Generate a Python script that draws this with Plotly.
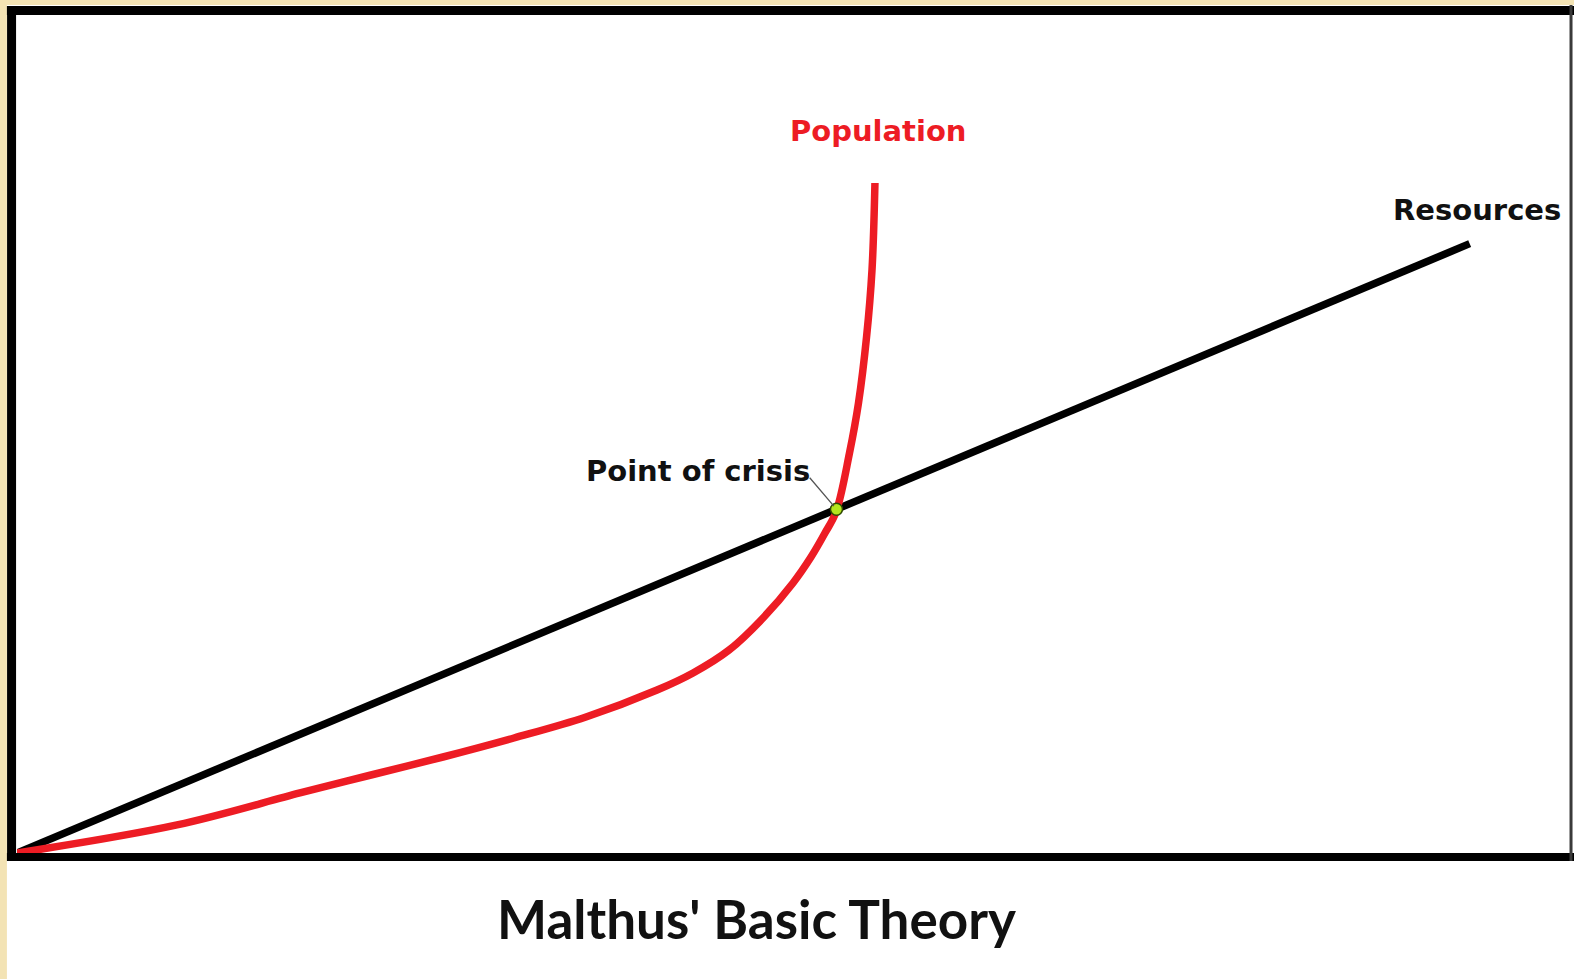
import plotly.graph_objects as go

# Population curve (time, level)
pop_x = [0, 10.31, 18.23, 22.81, 27.45, 32.02, 36.66, 41.24, 43.56, 45.88, 48.13,
         50.00, 51.16, 52.06, 52.77, 53.64, 54.22, 54.74, 55.09, 55.28]
pop_y = [0, 3.35, 7.17, 9.32, 11.47, 13.74, 16.25, 19.47, 21.51, 24.25, 28.20,
         32.26, 35.36, 38.23, 40.74, 47.79, 53.76, 61.65, 69.65, 80.05]

# Resources grow linearly
res_x = [0, 93.6]
res_y = [0, 72.8]

# where the two meet
crisis_x = [52.8]
crisis_y = [41.07]

RED = "#ed1c24"
GOLD = "#f3e3b4"
FONT = "DejaVu Sans"

fig = go.Figure()

fig.add_trace(go.Scatter(x=res_x, y=res_y, mode="lines",
                         line=dict(color="black", width=7.5), hoverinfo="skip"))
fig.add_trace(go.Scatter(x=pop_x, y=pop_y, mode="lines",
                         line=dict(color=RED, width=7.5, shape="spline", smoothing=1.0),
                         hoverinfo="skip"))
fig.add_trace(go.Scatter(x=crisis_x, y=crisis_y, mode="markers",
                         marker=dict(color="#b5e61d", size=12,
                                     line=dict(color="#2f4a00", width=1.5)),
                         hoverinfo="skip"))

# background: gold strip on the left/top, white sheet, black frame
fig.add_shape(type="rect", xref="paper", yref="paper",
              x0=-0.0065, x1=1.01, y0=-0.16, y1=1.0131,
              fillcolor="white", line_width=0, layer="below")
frame = dict(xref="paper", yref="paper", type="line", layer="above")
fig.add_shape(x0=-0.0035, x1=-0.0035, y0=-0.0096, y1=1.0066,
              line=dict(color="black", width=9), **frame)
fig.add_shape(x0=-0.0065, x1=1.01, y0=1.0066, y1=1.0066,
              line=dict(color="black", width=9), **frame)
fig.add_shape(x0=-0.0065, x1=1.01, y0=-0.0048, y1=-0.0048,
              line=dict(color="black", width=8), **frame)
fig.add_shape(x0=1.0013, x1=1.0013, y0=-0.0096, y1=1.0131,
              line=dict(color="#3a3a3a", width=3), **frame)

# labels
fig.add_annotation(x=55.5, y=86.3, text="<b>Population</b>", showarrow=False,
                   font=dict(family=FONT, size=29, color=RED))
fig.add_annotation(x=94.07, y=76.8, text="<b>Resources</b>", showarrow=False,
                   font=dict(family=FONT, size=29, color="#111111"))
fig.add_annotation(x=43.9, y=45.6, text="<b>Point of crisis</b>", showarrow=False,
                   font=dict(family=FONT, size=29, color="#111111"))
fig.add_annotation(x=crisis_x[0], y=crisis_y[0], text="", showarrow=True,
                   ax=-28, ay=-33, arrowhead=0, arrowwidth=1.3,
                   arrowcolor="#555555", standoff=4)
fig.add_annotation(xref="paper", yref="paper", x=0.4768, y=-0.0777,
                   xanchor="center", yanchor="middle",
                   text="<b>Malthus' Basic Theory</b>", showarrow=False,
                   font=dict(family="Lato", size=53, color="#111111"))

fig.update_xaxes(range=[0, 100], visible=False, showgrid=False, zeroline=False)
fig.update_yaxes(range=[0, 100], visible=False, showgrid=False, zeroline=False)
fig.update_layout(width=1574, height=979, showlegend=False,
                  paper_bgcolor=GOLD, plot_bgcolor="white",
                  margin=dict(l=17, r=5, t=16, b=126))

fig.write_html("out.html", config={"displayModeBar": False},
               post_script="document.body.style.margin='0';"
                           "document.body.style.overflow='hidden';")
